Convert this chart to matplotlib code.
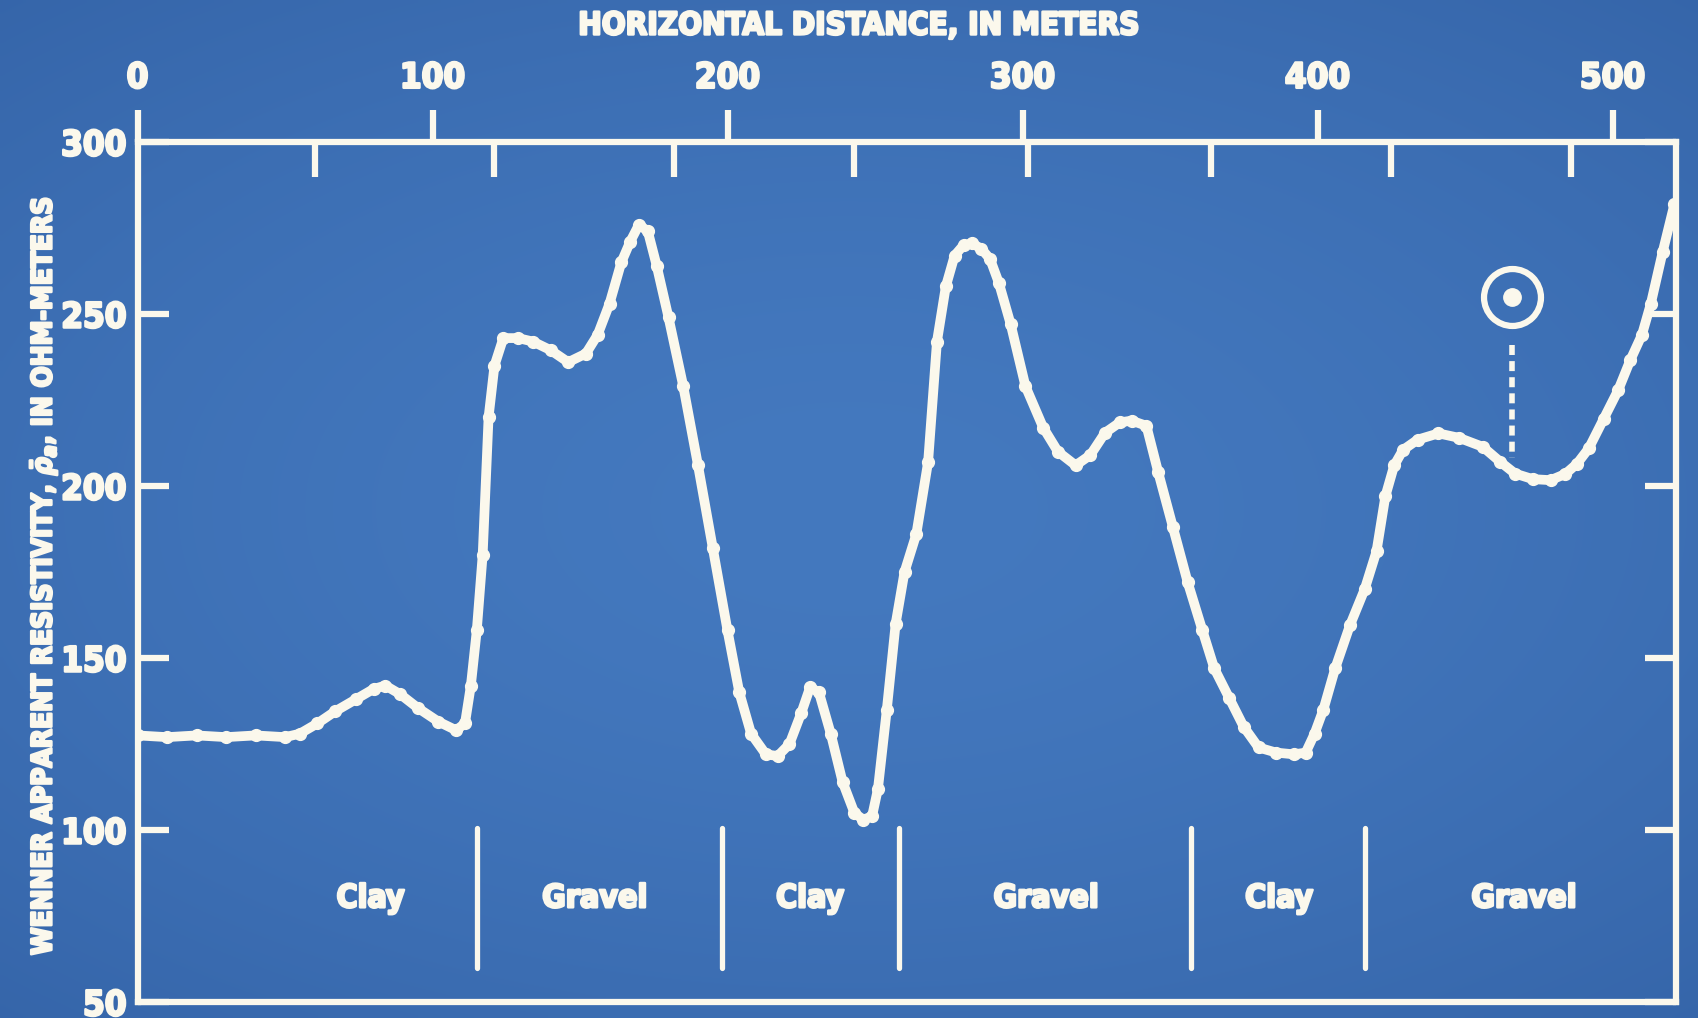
import matplotlib.pyplot as plt
import matplotlib.patheffects as pe
import numpy as np

# Wenner traverse: horizontal distance (m) and apparent resistivity (ohm-m)
dist = [0, 10, 20, 30, 40, 50, 55, 61, 67, 74, 80, 84, 89, 95, 102, 108, 111, 113,
        115, 117, 119, 121, 124, 129, 134, 140, 146, 152, 156, 160, 164, 167, 170,
        173, 176, 180, 185, 190, 195, 200, 204, 208, 213, 217, 221, 225, 228, 231,
        235, 239, 243, 246, 249, 251, 254, 257, 260, 264, 268, 271, 274, 277, 280,
        283, 286, 289, 292, 296, 301, 307, 312, 318, 323, 328, 333, 337, 342, 346,
        351, 356, 361, 365, 370, 375, 380, 386, 392, 396, 399, 402, 406, 411, 416,
        420, 423, 426, 429, 434, 441, 448, 456, 462, 467, 473, 479, 484, 488, 492,
        497, 502, 506, 510, 513, 517, 521]
rho = [127.5, 127, 127.5, 127, 127.5, 127, 128, 131, 134.5, 138, 141, 142, 139.5,
       135.5, 131.5, 129, 131, 142, 158, 180, 220, 235, 243, 243, 242, 239.5, 236,
       238.5, 244, 253, 265, 271, 276, 274, 264, 249, 229, 206, 182, 158, 140, 128,
       122, 121.5, 125, 134, 141.5, 140, 128, 114, 105, 103, 104, 112, 135, 160, 175,
       186, 207, 242, 258, 267, 270, 270.5, 269, 266, 259, 247, 229, 217, 210, 206,
       209, 215.5, 218.5, 219, 217.5, 204, 188, 172, 158, 147, 138.5, 130, 124, 122.5,
       122, 122.5, 128, 135, 147, 159.5, 170, 181, 197, 206, 210.5, 213.5, 215.3, 214,
       211.4, 207, 203.6, 202, 201.7, 203.5, 206.5, 211, 219.5, 228, 236.5, 244, 253,
       268, 282]

x_major = [0, 100, 200, 300, 400, 500]
x_minor = [60, 121, 182, 243, 302, 364, 425, 486]
y_ticks = [50, 100, 150, 200, 250, 300]

# lithologic contacts and unit names
contacts = [115, 198, 258, 357, 416]
units = ['Clay', 'Gravel', 'Clay', 'Gravel', 'Clay', 'Gravel']
unit_x = [79, 155, 228, 308, 387, 470]

# sounding station marker
station_x = 466
station_y = 255
station_drop = [241, 208]

BLUE = '#3F74BA'
W = '#FBF8EC'

plt.rcParams['font.family'] = ['DejaVu Sans']
plt.rcParams['font.stretch'] = 'condensed'
plt.rcParams['font.weight'] = 'bold'
plt.rcParams['mathtext.fontset'] = 'dejavusans'

heavy = [pe.withStroke(linewidth=1.8, foreground=W)]

fig = plt.figure(figsize=(16.98, 10.18), dpi=100, facecolor=BLUE)

# slide backdrop, a little darker toward the edges
bg = fig.add_axes([0, 0, 1, 1], zorder=-10)
gy, gx = np.mgrid[-1:1:200j, -1:1:340j]
r = np.clip(np.hypot(gx * 0.9, gy), 0, 1.5)
c0 = np.array([0x44, 0x79, 0xBF]) / 255
c1 = np.array([0x33, 0x62, 0xA6]) / 255
img = c0 + (c1 - c0) * (r[..., None] / 1.5) ** 1.6
bg.imshow(img, aspect='auto', extent=[0, 1, 0, 1], interpolation='bilinear')
bg.axis('off')

ax = fig.add_axes([0.081, 0.0157, 0.906, 0.8448])
ax.set_facecolor('none')

ax.plot(dist, rho, color=W, lw=7, solid_joinstyle='round', solid_capstyle='round',
        marker='o', ms=8.5, mfc=W, mec=W, zorder=3)

ax.plot(station_x, station_y, 'o', ms=41, mfc='none', mec=W, mew=4.5, zorder=4)
ax.plot(station_x, station_y, 'o', ms=12.5, color=W, zorder=4)
ax.plot([station_x, station_x], station_drop, color=W, lw=4,
        ls=(0, (1.8, 1.1)), zorder=3)

for cx in contacts:
    ax.plot([cx, cx], [60, 100.5], color=W, lw=3.8, solid_capstyle='round')
for name, ux in zip(units, unit_x):
    ax.text(ux, 80, name, ha='center', va='center', fontsize=23, color=W,
            fontweight='bold', path_effects=heavy)

ax.set_xlim(0, 521.5)
ax.set_ylim(50, 300)

for s in ax.spines.values():
    s.set_color(W)
    s.set_linewidth(4.5)

ax.xaxis.set_ticks_position('top')
ax.set_xticks(x_major)
ax.set_xticks(x_minor, minor=True)
ax.xaxis.remove_overlapping_locs = False
ax.tick_params(axis='x', which='major', direction='out', length=23, width=4.5,
               color=W, labelcolor=W, labelsize=25, pad=11,
               top=True, bottom=False, labeltop=True, labelbottom=False)
ax.tick_params(axis='x', which='minor', direction='in', length=25, width=4.5,
               color=W, top=True, bottom=False)

ax.set_yticks(y_ticks)
ax.tick_params(axis='y', direction='in', length=22, width=4.5, color=W,
               labelcolor=W, labelsize=25, pad=8, left=True, right=True)
for lab in ax.get_xticklabels() + ax.get_yticklabels():
    lab.set_path_effects(heavy)

fig.text(0.506, 0.9745, 'HORIZONTAL DISTANCE, IN METERS', ha='center', va='center',
         fontsize=22.5, color=W, fontweight='bold', path_effects=heavy)
fig.text(0.0255, 0.434, r'WENNER APPARENT RESISTIVITY, $\bar{\rho}_a$, IN OHM-METERS',
         ha='center', va='center', rotation=90, fontsize=20, color=W,
         fontweight='bold', path_effects=heavy)

fig.savefig('out.png', dpi=100, facecolor=BLUE)
